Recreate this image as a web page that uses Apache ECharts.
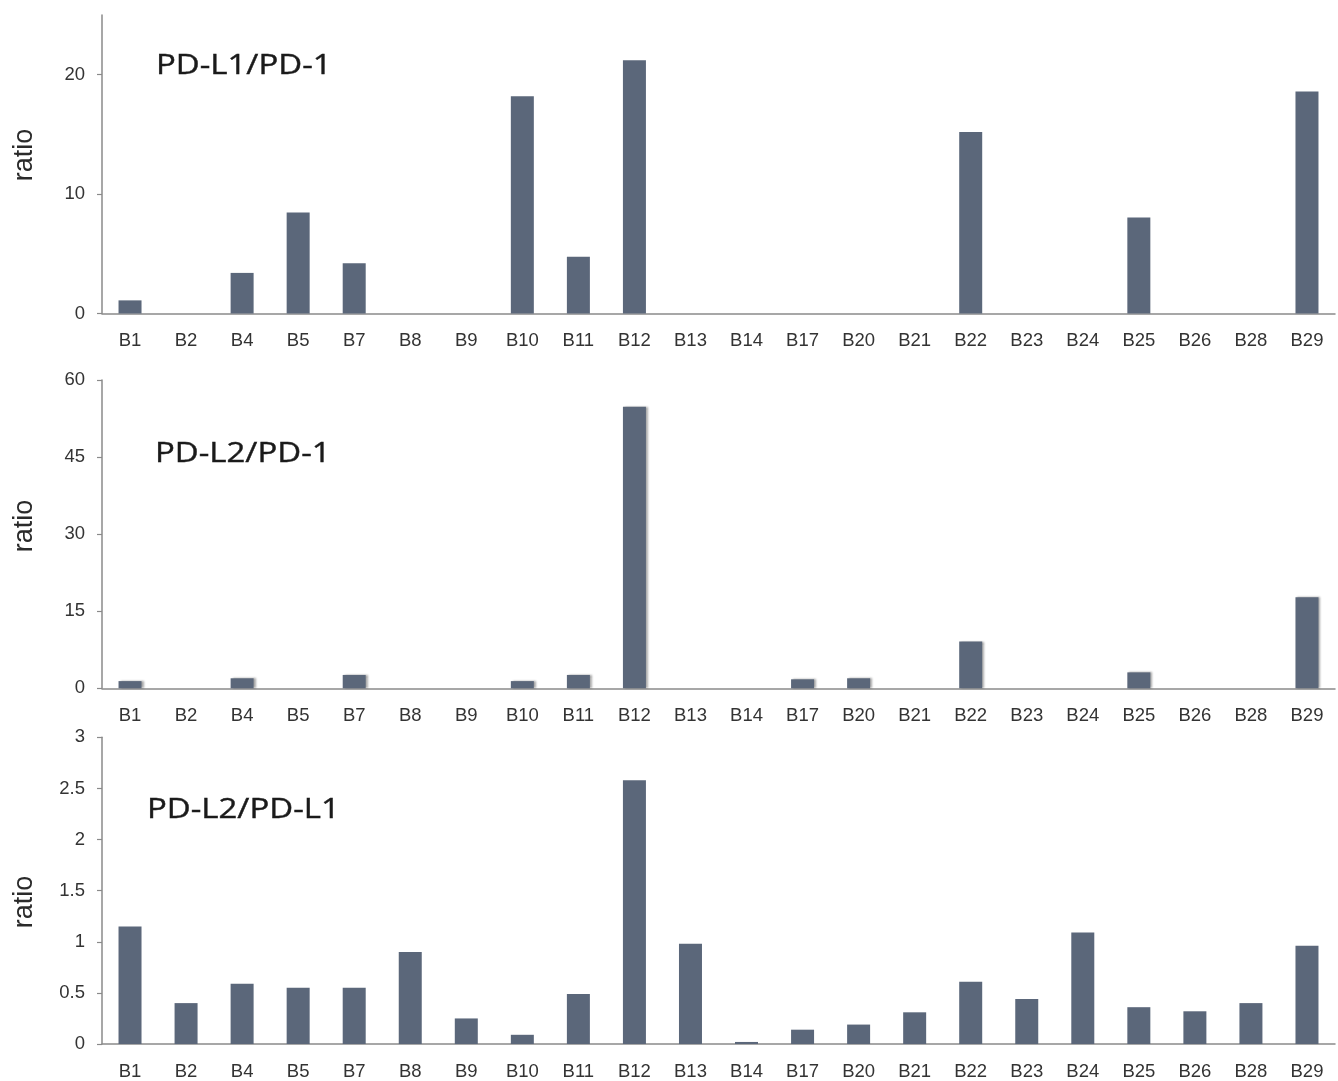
<!DOCTYPE html>
<html>
<head>
<meta charset="utf-8">
<script src="https://cdn.jsdelivr.net/npm/echarts@6/dist/echarts.min.js"></script>
<style>
html,body{margin:0;padding:0;background:#fff;}
#chart{width:1338px;height:1081px;}
</style>
</head>
<body>
<div id="chart"></div>
<script>
const categories = ['B1','B2','B4','B5','B7','B8','B9','B10','B11','B12','B13','B14','B17','B20','B21','B22','B23','B24','B25','B26','B28','B29'];
const pdl1_pd1  = [1.1, 0, 3.4, 8.45, 4.2, 0, 0, 18.2, 4.75, 21.2, 0, 0, 0, 0, 0, 15.2, 0, 0, 8.05, 0, 0, 18.6];
const pdl2_pd1  = [1.4, 0, 1.95, 0, 2.6, 0, 0, 1.4, 2.6, 54.8, 0, 0, 1.75, 1.95, 0, 9.1, 0, 0, 3.1, 0, 0, 17.7];
const pdl2_pdl1 = [1.15, 0.40, 0.59, 0.55, 0.55, 0.90, 0.25, 0.09, 0.49, 2.58, 0.98, 0.02, 0.14, 0.19, 0.31, 0.61, 0.44, 1.09, 0.36, 0.32, 0.40, 0.96];
const panelTitles = ['PD-L1/PD-1', 'PD-L2/PD-1', 'PD-L2/PD-L1'];
const yTicks1 = [0, 10, 20];

const BAR = '#5b677a';
const AXIS = '#8a8a8a';
const LABEL = '#333333';

const grids = [
  {left: 102, right: 3, top: 15, bottom: 767.5},
  {left: 102, right: 3, top: 380, bottom: 392.7},
  {left: 102, right: 3, top: 737.3, bottom: 35.3}
];

function xAxis(i) {
  return {
    type: 'category', gridIndex: i, data: categories,
    axisLine: {lineStyle: {color: AXIS, width: 1.5}},
    axisTick: {length: 5, lineStyle: {color: AXIS, width: 1.2}},
    axisLabel: {interval: 0, margin: 18, fontSize: 18.5, fontFamily: '"Liberation Sans", Arial, sans-serif', color: LABEL}
  };
}
function yAxis(i, max, interval, custom) {
  const a = {
    type: 'value', gridIndex: i, min: 0, max: max, interval: interval,
    splitLine: {show: false},
    axisLine: {show: true, lineStyle: {color: AXIS, width: 1.5}},
    axisTick: {show: true, length: 5, lineStyle: {color: AXIS, width: 1.2}},
    axisLabel: {margin: 17, fontSize: 18.5, fontFamily: '"Liberation Sans", Arial, sans-serif', color: LABEL}
  };
  if (custom) {
    a.axisTick.customValues = custom;
    a.axisLabel.customValues = custom;
  }
  return a;
}

const titleY = [66, 454, 810];
const titleX = [156, 155, 147];
const ratioY = [155, 526, 902];

const graphics = [];
for (let i = 0; i < 3; i++) {
  graphics.push({
    type: 'text', x: titleX[i], y: titleY[i], scaleX: 1.22,
    style: {text: panelTitles[i], font: '27px "Open Sans", sans-serif', fill: '#1a1a1a', textVerticalAlign: 'middle', textAlign: 'left',
            stroke: '#1a1a1a', lineWidth: 0.4}
  });
  graphics.push({
    type: 'text', x: 25, y: ratioY[i], rotation: Math.PI / 2,
    style: {text: 'ratio', font: '27px "Liberation Sans", Arial, sans-serif', fill: '#2a2a2a', textVerticalAlign: 'middle', textAlign: 'center'}
  });
}

const option = {
  animation: false,
  backgroundColor: '#fff',
  grid: grids,
  xAxis: [xAxis(0), xAxis(1), xAxis(2)],
  yAxis: [yAxis(0, 25, 10, yTicks1), yAxis(1, 60, 15), yAxis(2, 3, 0.5)],
  graphic: graphics,
  series: [
    {type: 'bar', xAxisIndex: 0, yAxisIndex: 0, data: pdl1_pd1, barWidth: 23, itemStyle: {color: BAR}},
    {type: 'bar', xAxisIndex: 1, yAxisIndex: 1, data: pdl2_pd1, barWidth: 23,
     itemStyle: {color: BAR, shadowColor: 'rgba(0,0,0,0.35)', shadowOffsetX: 2, shadowOffsetY: 0, shadowBlur: 2}},
    {type: 'bar', xAxisIndex: 2, yAxisIndex: 2, data: pdl2_pdl1, barWidth: 23, itemStyle: {color: BAR}}
  ]
};

const chart = echarts.init(document.getElementById('chart'), null, {renderer: 'canvas'});
chart.setOption(option);
</script>
</body>
</html>
